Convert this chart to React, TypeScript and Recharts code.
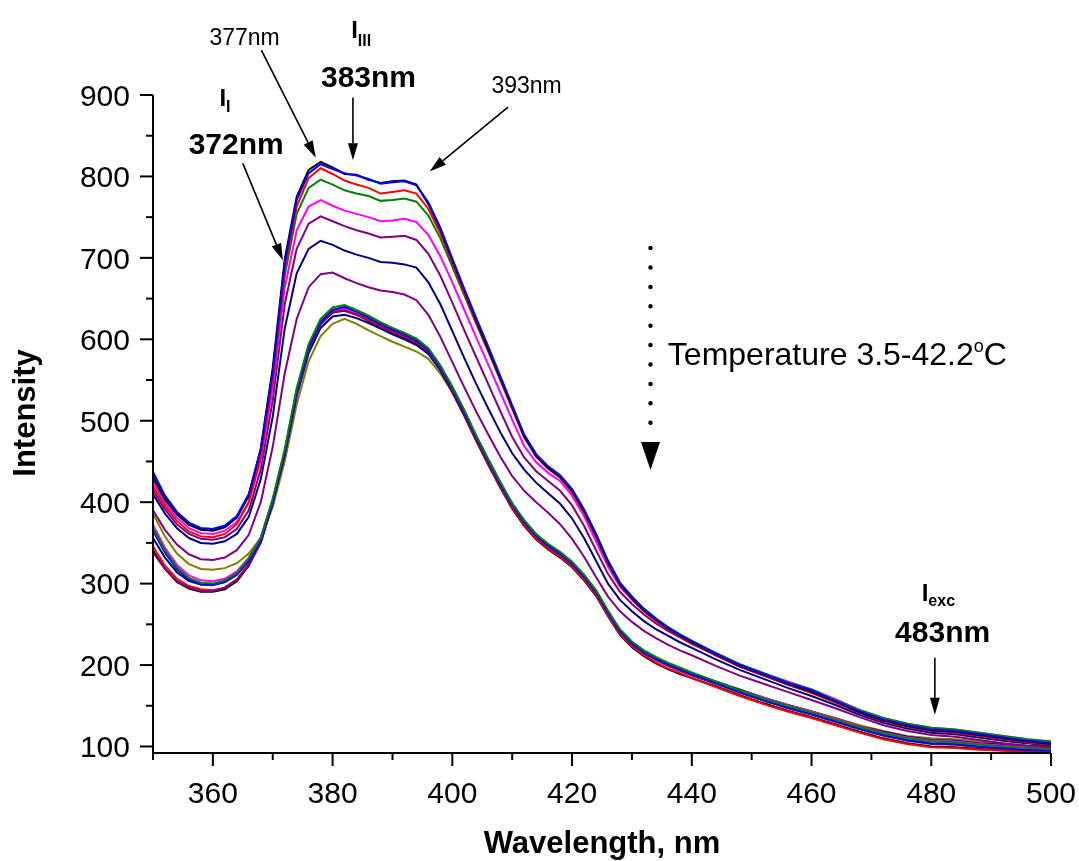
import React from 'react';
import { LineChart, Line, XAxis, YAxis, ReferenceLine, ReferenceDot } from 'recharts';

const FONT = '"Liberation Sans", Arial, Helvetica, sans-serif';

// wavelength grid, nm
const wavelengths = [
  350, 352, 354, 356, 358, 360, 362, 364, 366, 368, 370, 372, 374, 376, 378, 380, 382, 384, 386, 388,
  390, 392, 394, 396, 398, 400, 402, 404, 406, 408, 410, 412, 414, 416, 418, 420, 422, 424, 426, 428,
  430, 432, 434, 436, 438, 440, 444, 448, 452, 456, 460, 464, 468, 472, 476, 480, 484, 488, 492, 496, 500,
];

// upper group (low temperatures)
const hiBlack = [
  430, 403, 385, 372, 366, 365, 369, 381, 408, 466, 565, 698, 775, 808, 818, 811, 803, 802, 796, 792,
  794, 795, 790, 766, 735, 697, 660, 623, 588, 553, 517, 481, 457, 442, 431, 414, 389, 359, 326, 299,
  282, 267, 256, 245, 236, 228, 213, 199, 188, 177, 167, 155, 142, 132, 125, 120, 118, 114, 110, 106, 103,
];
const hiBlue = [
  437, 408, 388, 375, 368, 367, 371, 383, 410, 465, 560, 693, 771, 804, 815, 809, 804, 801, 797, 791,
  793, 794, 789, 768, 737, 699, 662, 626, 591, 555, 519, 483, 459, 444, 433, 416, 391, 361, 328, 301,
  284, 269, 257, 246, 237, 229, 214, 200, 189, 178, 169, 156, 143, 133, 126, 121, 119, 115, 111, 107, 104,
];
const hiRed = [
  420, 395, 377, 364, 358, 357, 361, 373, 400, 456, 552, 686, 763, 798, 810, 803, 795, 790, 786, 779,
  781, 783, 779, 760, 730, 693, 656, 620, 586, 551, 515, 480, 456, 441, 430, 412, 387, 357, 324, 298,
  281, 266, 254, 244, 235, 227, 212, 198, 187, 176, 166, 154, 141, 131, 124, 119, 117, 113, 109, 105, 102,
];
const hiGreen = [
  433, 406, 387, 374, 368, 367, 371, 382, 407, 460, 550, 678, 754, 786, 796, 790, 783, 779, 776, 770,
  771, 773, 769, 752, 724, 689, 654, 619, 585, 550, 515, 480, 457, 442, 432, 415, 390, 361, 328, 301,
  284, 269, 257, 247, 238, 230, 215, 201, 190, 179, 170, 157, 145, 135, 128, 123, 121, 117, 113, 109, 106,
];
const hiMagenta = [
  425, 399, 381, 368, 362, 361, 365, 376, 400, 452, 540, 663, 734, 763, 771, 764, 758, 754, 750, 745,
  746, 748, 744, 728, 702, 670, 636, 602, 569, 535, 501, 469, 449, 436, 426, 408, 383, 352, 321, 296,
  280, 266, 255, 245, 237, 229, 215, 201, 190, 180, 170, 158, 145, 135, 128, 123, 121, 117, 113, 109, 106,
];
const hiPurple = [
  415, 391, 373, 361, 355, 354, 357, 367, 390, 440, 525, 643, 711, 742, 751, 745, 739, 734, 730, 725,
  726, 727, 722, 705, 678, 645, 611, 578, 545, 512, 480, 455, 438, 426, 414, 396, 371, 341, 312, 290,
  275, 262, 251, 242, 234, 226, 212, 198, 187, 176, 166, 155, 142, 132, 125, 120, 118, 114, 110, 106, 103,
];
const hiNavy = [
  410, 386, 368, 356, 350, 349, 352, 361, 382, 428, 505, 613, 681, 711, 721, 716, 709, 704, 700, 695,
  694, 692, 688, 670, 643, 610, 577, 545, 515, 486, 460, 440, 424, 411, 398, 380, 356, 328, 300, 280,
  266, 254, 244, 236, 228, 221, 207, 194, 183, 172, 162, 151, 139, 129, 122, 117, 115, 111, 107, 104, 101,
];
const hiPurple2 = [
  390, 366, 348, 336, 330, 329, 332, 341, 360, 400, 468, 558, 625, 664, 680, 682, 675, 669, 664, 660,
  658, 655, 648, 630, 603, 572, 541, 511, 483, 456, 432, 414, 400, 387, 373, 355, 333, 308, 284, 266,
  253, 242, 233, 225, 218, 212, 199, 187, 177, 167, 157, 147, 136, 126, 119, 114, 112, 108, 104, 101, 99,
];

// lower group (high temperatures)
const loGreen = [
  368, 341, 320, 307, 301, 300, 304, 313, 331, 356, 404, 465, 540, 594, 625, 639, 642, 636, 629, 621,
  614, 608, 601, 589, 568, 542, 513, 482, 453, 425, 399, 378, 361, 349, 339, 327, 311, 292, 267, 244,
  229, 218, 210, 203, 197, 191, 180, 169, 159, 150, 142, 133, 124, 116, 110, 106, 105, 102, 100, 98, 97,
];
const loBlue = [
  365, 338, 318, 305, 299, 298, 302, 311, 328, 352, 400, 460, 535, 590, 621, 636, 640, 634, 627, 619,
  612, 606, 599, 587, 566, 540, 511, 480, 451, 423, 397, 376, 359, 347, 337, 325, 309, 290, 265, 242,
  227, 216, 208, 201, 195, 189, 178, 167, 157, 148, 140, 131, 122, 114, 108, 104, 103, 100, 98, 96, 95,
];
const loMagenta = [
  372, 344, 323, 310, 304, 303, 306, 315, 332, 357, 404, 463, 537, 591, 622, 636, 638, 633, 627, 620,
  613, 607, 600, 588, 567, 541, 512, 481, 452, 424, 398, 377, 360, 348, 338, 326, 310, 291, 266, 243,
  228, 217, 209, 202, 196, 190, 180, 169, 160, 151, 143, 134, 125, 117, 111, 107, 106, 103, 101, 99, 98,
];
const loPurple = [
  338, 318, 303, 295, 291, 291, 295, 305, 323, 350, 398, 458, 532, 587, 618, 633, 636, 631, 625, 617,
  610, 604, 597, 585, 564, 538, 509, 478, 449, 421, 395, 374, 357, 345, 335, 323, 307, 288, 263, 240,
  225, 214, 206, 199, 193, 187, 177, 166, 156, 147, 139, 130, 121, 113, 107, 103, 102, 99, 97, 95, 94,
];
const loNavy = [
  356, 332, 314, 303, 299, 299, 302, 311, 328, 354, 400, 458, 530, 583, 614, 628, 630, 626, 620, 613,
  606, 600, 593, 582, 562, 537, 508, 478, 449, 421, 396, 375, 358, 346, 336, 324, 308, 289, 264, 242,
  227, 216, 208, 201, 195, 190, 180, 170, 160, 151, 143, 134, 125, 118, 112, 108, 107, 104, 102, 100, 99,
];
const loRed = [
  346, 322, 306, 297, 293, 292, 295, 305, 324, 352, 401, 461, 535, 590, 620, 634, 636, 630, 624, 616,
  609, 603, 596, 584, 563, 536, 507, 476, 447, 419, 393, 372, 355, 343, 333, 321, 305, 286, 261, 238,
  223, 212, 203, 196, 190, 184, 173, 162, 152, 143, 135, 126, 117, 109, 103, 99, 98, 96, 95, 94, 93,
];
const loBlack = [
  341, 318, 302, 294, 290, 290, 293, 303, 322, 351, 400, 460, 534, 589, 620, 633, 635, 630, 623, 615,
  608, 602, 595, 583, 562, 535, 506, 475, 446, 418, 392, 371, 354, 342, 332, 320, 304, 285, 260, 237,
  222, 211, 202, 195, 189, 184, 174, 163, 153, 144, 136, 127, 118, 110, 104, 100, 99, 97, 95, 94, 94,
];
const loOlive = [
  386, 358, 337, 324, 318, 317, 319, 325, 337, 356, 394, 450, 520, 573, 604, 619, 625, 619, 611, 604,
  597, 591, 585, 576, 558, 535, 507, 477, 448, 420, 395, 374, 357, 345, 335, 323, 307, 288, 263, 241,
  226, 215, 207, 200, 194, 189, 179, 169, 160, 151, 143, 135, 126, 119, 113, 110, 109, 106, 103, 101, 100,
];

const series = [
  { key: 'loOlive', color: '#808000', values: loOlive },
  { key: 'loBlack', color: '#000000', values: loBlack },
  { key: 'loRed', color: '#FF0000', values: loRed },
  { key: 'loNavy', color: '#000080', values: loNavy },
  { key: 'loPurple', color: '#800080', values: loPurple },
  { key: 'loMagenta', color: '#FF00FF', values: loMagenta },
  { key: 'loBlue', color: '#0000FF', values: loBlue },
  { key: 'loGreen', color: '#008000', values: loGreen },
  { key: 'hiPurple2', color: '#800080', values: hiPurple2 },
  { key: 'hiNavy', color: '#000080', values: hiNavy },
  { key: 'hiPurple', color: '#800080', values: hiPurple },
  { key: 'hiMagenta', color: '#FF00FF', values: hiMagenta },
  { key: 'hiGreen', color: '#008000', values: hiGreen },
  { key: 'hiRed', color: '#FF0000', values: hiRed },
  { key: 'hiBlack', color: '#000000', values: hiBlack },
  { key: 'hiBlue', color: '#0000FF', values: hiBlue },
];

const xTicks = [350, 360, 370, 380, 390, 400, 410, 420, 430, 440, 450, 460, 470, 480, 490, 500];
const yTicks = [100, 150, 200, 250, 300, 350, 400, 450, 500, 550, 600, 650, 700, 750, 800, 850, 900];

const rows = wavelengths.map((wl, i) => {
  const row: Record<string, number> = { wl };
  series.forEach((s) => {
    row[s.key] = s.values[i];
  });
  return row;
});

const XTick = (props: any) => {
  const { x, y, payload } = props;
  const major = payload.value % 20 === 0;
  return (
    <g>
      <line x1={x} x2={x} y1={y} y2={y + (major ? 13 : 7)} stroke="#000" strokeWidth={2} />
      {major && (
        <text x={x} y={y + 28} dy="0.72em" textAnchor="middle" fontSize={30} fontFamily={FONT} fill="#000">
          {payload.value}
        </text>
      )}
    </g>
  );
};

const YTick = (props: any) => {
  const { x, y, payload } = props;
  const major = payload.value % 100 === 0;
  return (
    <g>
      <line x1={x} x2={x - (major ? 13 : 7)} y1={y} y2={y} stroke="#000" strokeWidth={2} />
      {major && (
        <text x={x - 23} y={y} dy="0.36em" textAnchor="end" fontSize={30} fontFamily={FONT} fill="#000">
          {payload.value}
        </text>
      )}
    </g>
  );
};

const XTitle = (props: any) => {
  const vb = props.viewBox;
  return (
    <text x={vb.x + vb.width / 2} y={vb.y + 100} textAnchor="middle" fontSize={31} fontWeight="bold" fontFamily={FONT}>
      Wavelength, nm
    </text>
  );
};

const YTitle = (props: any) => {
  const vb = props.viewBox;
  const cx = vb.x - 18;
  const cy = vb.y + vb.height / 2 - 11;
  return (
    <text x={cx} y={cy} transform={`rotate(-90, ${cx}, ${cy})`} textAnchor="middle" fontSize={31} fontWeight="bold" fontFamily={FONT}>
      Intensity
    </text>
  );
};

const arrowShape = (head: number, half: number, dotted = false) => (props: any) => {
  const { x1, y1, x2, y2 } = props;
  const dx = x2 - x1;
  const dy = y2 - y1;
  const len = Math.hypot(dx, dy) || 1;
  const ux = dx / len;
  const uy = dy / len;
  const bx = x2 - ux * head;
  const by = y2 - uy * head;
  const px = -uy * half;
  const py = ux * half;
  return (
    <g>
      <line
        x1={x1}
        y1={y1}
        x2={bx}
        y2={by}
        stroke="#000"
        strokeWidth={dotted ? 4.5 : 1.6}
        strokeDasharray={dotted ? '0 19.4' : undefined}
        strokeLinecap={dotted ? 'round' : 'butt'}
      />
      <polygon points={`${x2},${y2} ${bx + px},${by + py} ${bx - px},${by - py}`} fill="#000" />
    </g>
  );
};

const thinArrow = arrowShape(17, 5);
const dottedArrow = arrowShape(28, 9.5, true);

const label = (content: React.ReactNode, size: number, bold: boolean, anchor: 'start' | 'middle' = 'middle') =>
  (props: any) => (
    <text x={props.cx} y={props.cy} textAnchor={anchor} fontSize={size} fontWeight={bold ? 'bold' : 'normal'} fontFamily={FONT} fill="#000">
      {content}
    </text>
  );

export default function App() {
  return (
    <div style={{ position: 'fixed', left: 8, top: 8, width: 1071, height: 853 }}>
      <LineChart width={1071} height={853} data={rows} margin={{ top: 87, right: 28, bottom: 48, left: 45 }}>
        <XAxis
          dataKey="wl"
          type="number"
          domain={[350, 500]}
          ticks={xTicks}
          interval={0}
          tickSize={0}
          tickMargin={0}
          tickLine={false}
          tick={XTick}
          axisLine={{ stroke: '#000', strokeWidth: 2 }}
          height={60}
          allowDataOverflow
          label={{ content: XTitle }}
        />
        <YAxis
          type="number"
          domain={[92, 900]}
          ticks={yTicks}
          interval={0}
          tickSize={0}
          tickMargin={0}
          tickLine={false}
          tick={YTick}
          axisLine={{ stroke: '#000', strokeWidth: 2 }}
          width={100}
          allowDataOverflow
          label={{ content: YTitle }}
        />
        {series.map((s) => (
          <Line
            key={s.key}
            dataKey={s.key}
            stroke={s.color}
            strokeWidth={2}
            dot={false}
            activeDot={false}
            type="linear"
            isAnimationActive={false}
          />
        ))}

        <ReferenceLine segment={[{ x: 368.1, y: 955 }, { x: 377.2, y: 823 }]} ifOverflow="visible" shape={thinArrow} />
        <ReferenceLine segment={[{ x: 383.4, y: 897 }, { x: 383.4, y: 820 }]} ifOverflow="visible" shape={thinArrow} />
        <ReferenceLine segment={[{ x: 409.3, y: 885 }, { x: 396.2, y: 806 }]} ifOverflow="visible" shape={thinArrow} />
        <ReferenceLine segment={[{ x: 365.0, y: 816 }, { x: 371.7, y: 697 }]} ifOverflow="visible" shape={thinArrow} />
        <ReferenceLine segment={[{ x: 480.6, y: 209 }, { x: 480.6, y: 139 }]} ifOverflow="visible" shape={thinArrow} />
        <ReferenceLine segment={[{ x: 433.1, y: 712 }, { x: 433.1, y: 439.5 }]} ifOverflow="visible" shape={dottedArrow} />

        <ReferenceDot x={365.3} y={962} r={0} ifOverflow="visible" shape={label('377nm', 23, false)} />
        <ReferenceDot x={412.4} y={902} r={0} ifOverflow="visible" shape={label('393nm', 23, false)} />
        <ReferenceDot x={386.0} y={910} r={0} ifOverflow="visible" shape={label('383nm', 30, true)} />
        <ReferenceDot x={363.9} y={827} r={0} ifOverflow="visible" shape={label('372nm', 30, true)} />
        <ReferenceDot x={481.9} y={228} r={0} ifOverflow="visible" shape={label('483nm', 30, true)} />
        <ReferenceDot
          x={383.1}
          y={970}
          r={0}
          ifOverflow="visible"
          shape={label(<>I<tspan dy={8} fontSize={16}>III</tspan></>, 24, true, 'start')}
        />
        <ReferenceDot
          x={361.1}
          y={886}
          r={0}
          ifOverflow="visible"
          shape={label(<>I<tspan dy={6} fontSize={16}>I</tspan></>, 24, true, 'start')}
        />
        <ReferenceDot
          x={478.4}
          y={279}
          r={0}
          ifOverflow="visible"
          shape={label(<>I<tspan dy={5} fontSize={16}>exc</tspan></>, 24, true, 'start')}
        />
        <ReferenceDot
          x={436.0}
          y={568}
          r={0}
          ifOverflow="visible"
          shape={label(<>Temperature 3.5-42.2<tspan dy={-13} fontSize={18}>o</tspan><tspan dy={13}>C</tspan></>, 32, false, 'start')}
        />
      </LineChart>
    </div>
  );
}
